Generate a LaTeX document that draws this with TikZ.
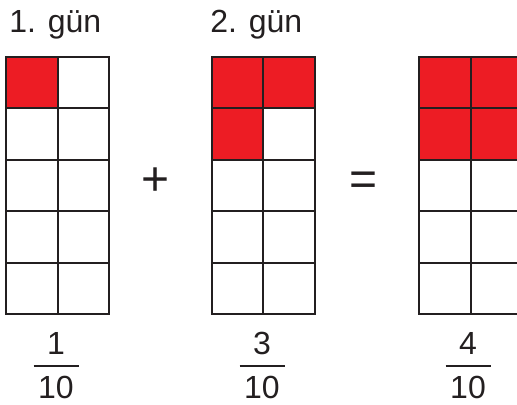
\documentclass[tikz,border=0pt]{standalone}
\usepackage{fontspec}
\setmainfont{Liberation Sans}
\usepackage{xcolor}
\definecolor{inkgray}{RGB}{35,31,32}
\definecolor{dayred}{RGB}{237,28,36}

\tikzset{
  cell/.style={draw=inkgray, line width=1.5pt},
  redcell/.style={fill=dayred},
  daylabel/.style={anchor=base west, inner sep=0.75pt, text=inkgray, font=\fontsize{24}{28}\selectfont},
  fracnum/.style={anchor=base, inner sep=0.75pt, text=inkgray, font=\fontsize{24}{28}\selectfont},
  fracbar/.style={draw=inkgray, line width=1.7pt},
  opsign/.style={inner sep=0pt, text=inkgray, font=\fontsize{36}{40}\selectfont}
}

\begin{document}
\begin{tikzpicture}[x=0.75pt,y=0.75pt,yscale=-1,xscale=1]
\clip (0,0) rectangle (517,404);

%Shape: Grid (1. gun)
\fill[redcell] (6,57) rectangle ++(51.5,51.4);
\foreach \i in {0,1}
  \foreach \j in {0,...,4}
    \draw[cell] ({6+\i*51.5},{57+\j*51.4}) rectangle ++(51.5,51.4);

%Shape: Grid (2. gun)
\fill[redcell] (211.5,57) rectangle ++(103,51.4);
\fill[redcell] (211.5,108.4) rectangle ++(51.5,51.4);
\foreach \i in {0,1}
  \foreach \j in {0,...,4}
    \draw[cell] ({211.5+\i*51.5},{57+\j*51.4}) rectangle ++(51.5,51.4);

%Shape: Grid (sum)
\fill[redcell] (419,57) rectangle ++(103,102.8);
\foreach \i in {0,1}
  \foreach \j in {0,...,4}
    \draw[cell] ({419+\i*51.5},{57+\j*51.4}) rectangle ++(51.5,51.4);

% Text Node
\node[daylabel] (day1) at (8,32) {1. gün};
% Text Node
\node[daylabel] (day2) at (209,32) {2. gün};
% Text Node
\node[opsign] (plus) at (156,182) {+};
% Text Node
\node[opsign] (equals) at (363.5,184) {=};

%Fraction 1/10
\node[fracnum] (num1) at (56,354) {1};
\draw[fracbar] (33.5,366) -- (78.5,366);
\node[fracnum] (den1) at (56,398) {10};
%Fraction 3/10
\node[fracnum] (num2) at (262,354) {3};
\draw[fracbar] (239.5,366) -- (284.5,366);
\node[fracnum] (den2) at (262,398) {10};
%Fraction 4/10
\node[fracnum] (num3) at (468,354) {4};
\draw[fracbar] (445.5,366) -- (490.5,366);
\node[fracnum] (den3) at (468,398) {10};

\end{tikzpicture}
\end{document}
